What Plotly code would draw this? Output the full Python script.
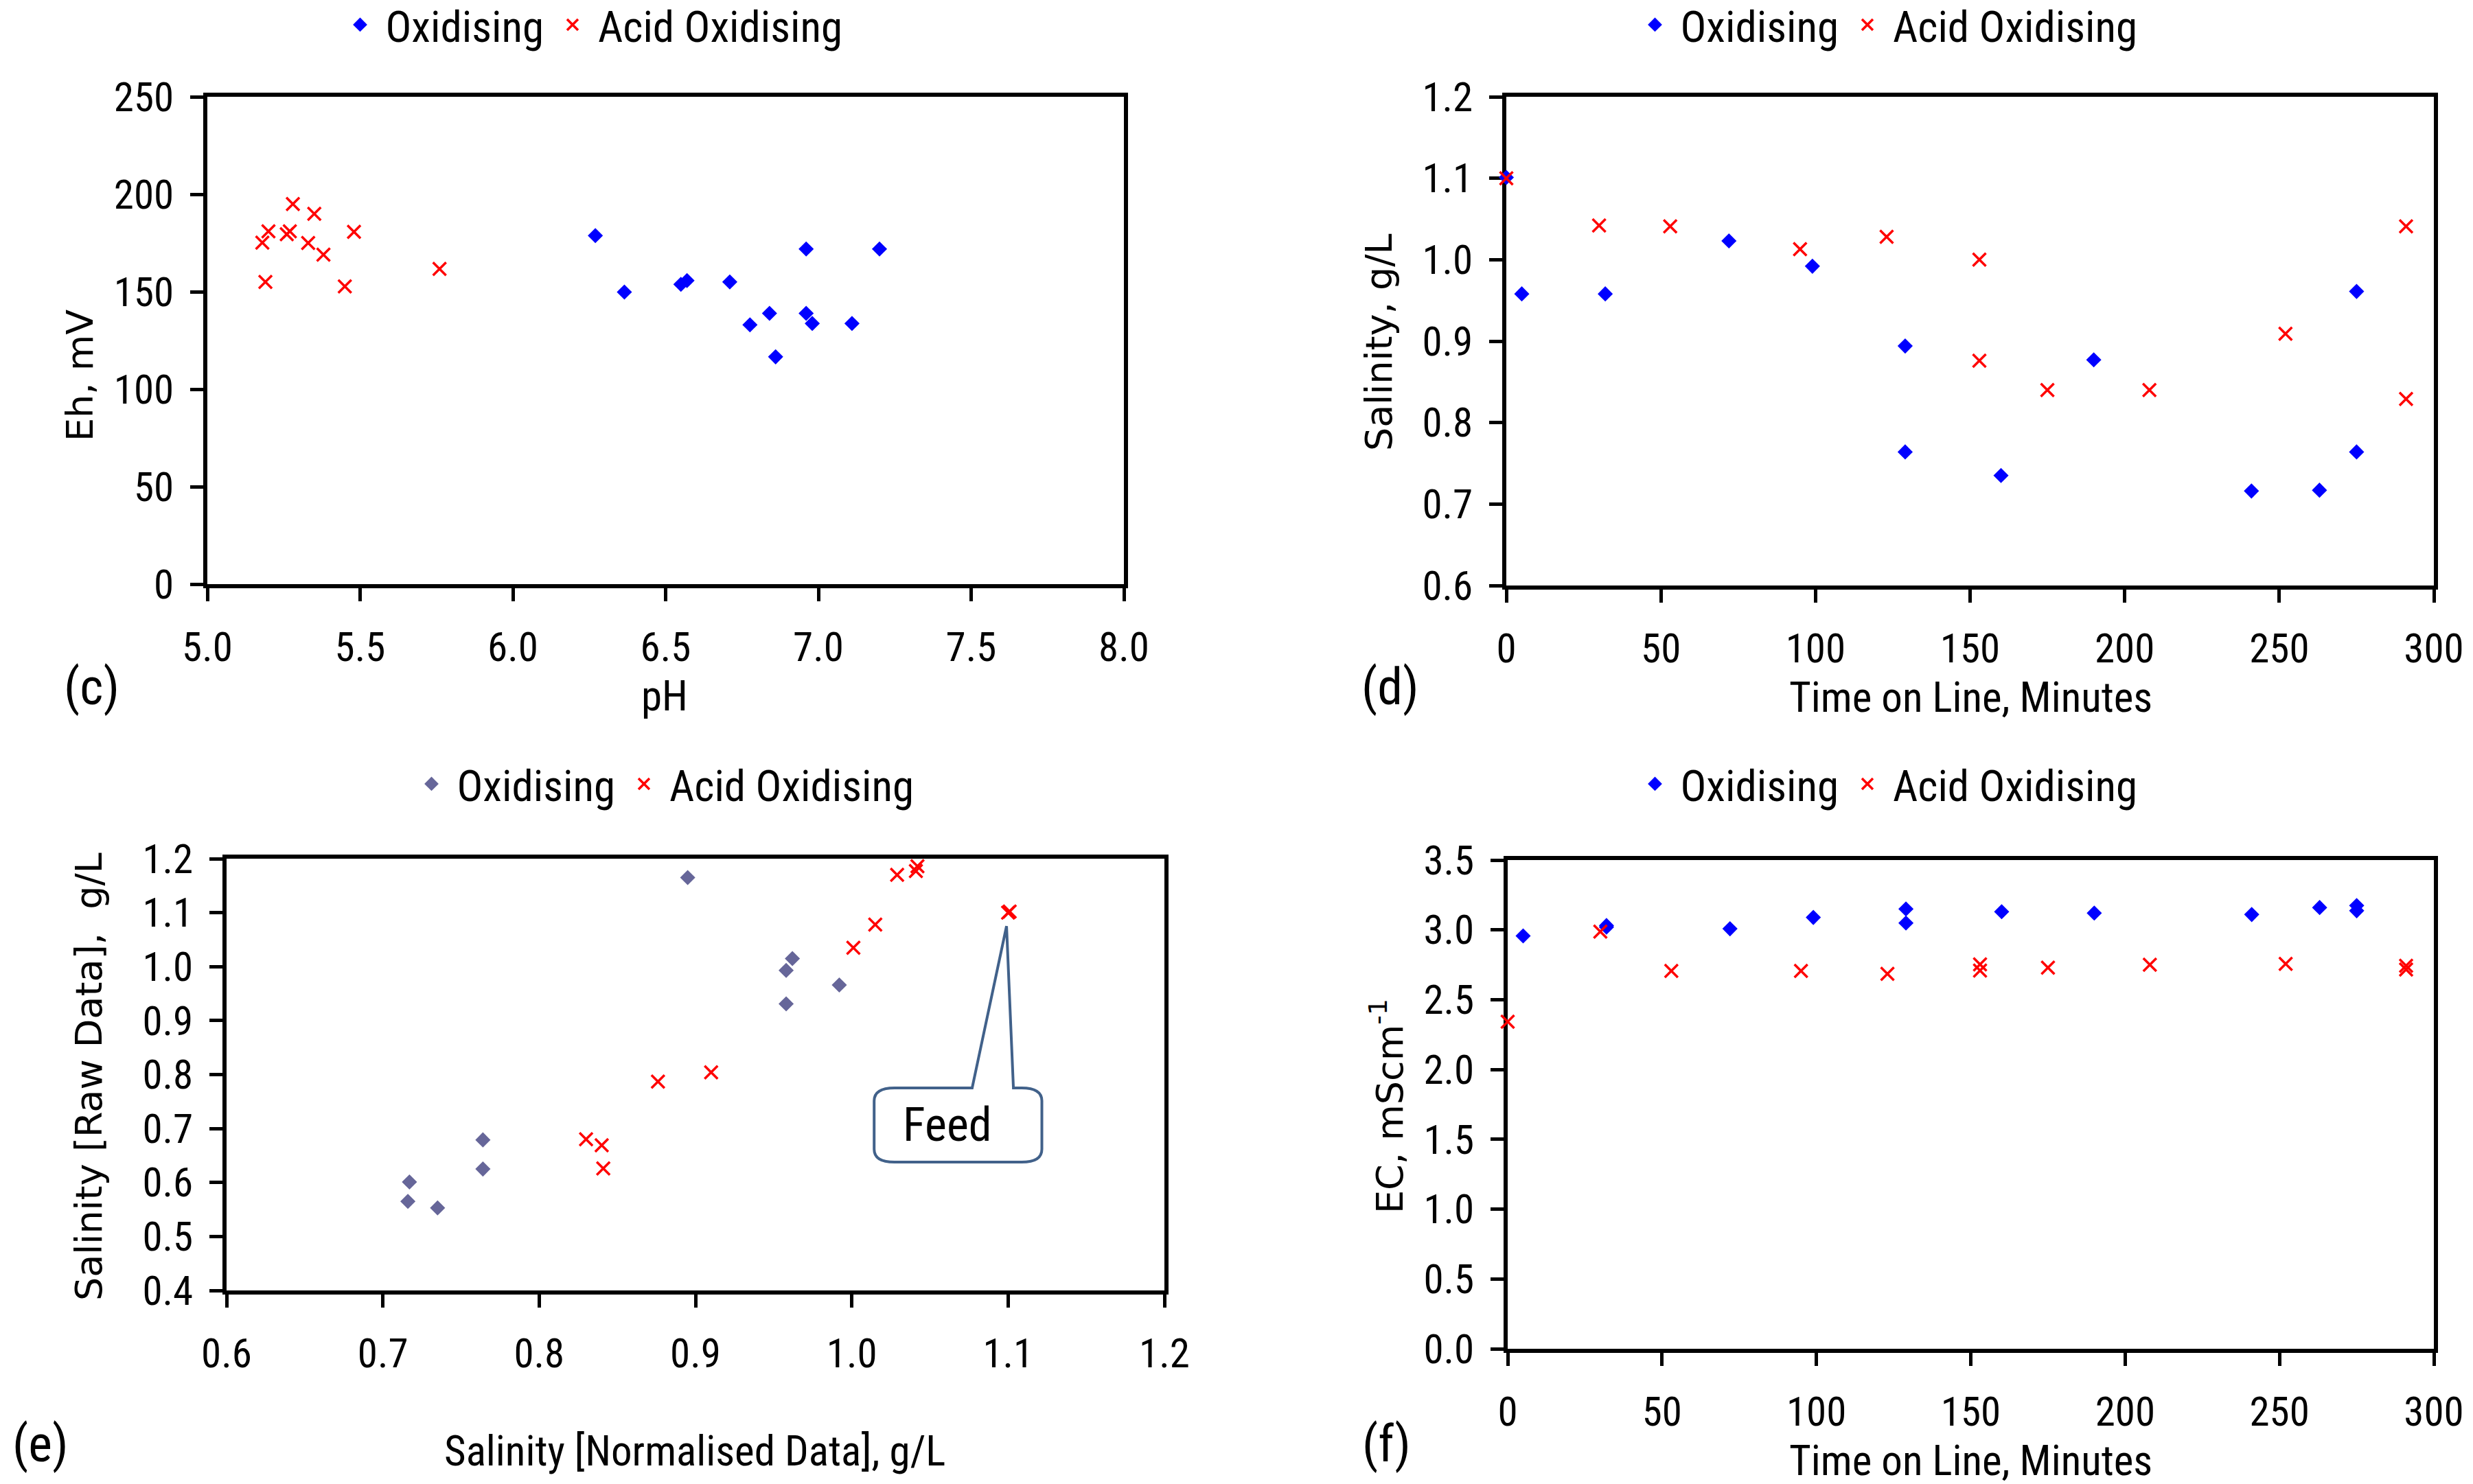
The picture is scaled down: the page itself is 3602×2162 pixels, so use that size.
import plotly.graph_objects as go

# ---------------- data ----------------
# (c) Eh vs pH
c_ox_ph = [6.27, 6.365, 6.55, 6.57, 6.71, 6.776, 6.84, 6.86, 6.96, 6.96, 6.98, 7.11, 7.20]
c_ox_eh = [178.8, 149.8, 153.8, 155.7, 155.0, 133.0, 138.9, 116.6, 171.9, 138.9, 133.7, 133.7, 171.9]
c_ac_ph = [5.18, 5.20, 5.19, 5.28, 5.26, 5.27, 5.35, 5.33, 5.38, 5.45, 5.48, 5.76]
c_ac_eh = [175.2, 181.0, 155.0, 195.0, 179.5, 181.0, 190.0, 175.0, 169.0, 152.7, 180.7, 161.7]

# (d) Salinity vs time
d_ox_t = [0, 5, 32, 72, 99, 129, 129, 160, 190, 241, 263, 275, 275]
d_ox_s = [1.101, 0.958, 0.958, 1.023, 0.992, 0.894, 0.764, 0.735, 0.877, 0.716, 0.717, 0.961, 0.764]
d_ac_t = [0, 30, 53, 95, 123, 153, 153, 175, 208, 252, 291, 291]
d_ac_s = [1.100, 1.042, 1.041, 1.013, 1.028, 1.000, 0.876, 0.840, 0.840, 0.909, 1.041, 0.829]

# (e) Raw vs normalised salinity
e_ox_x = [0.717, 0.716, 0.735, 0.764, 0.764, 0.895, 0.958, 0.962, 0.958, 0.992]
e_ox_y = [0.601, 0.565, 0.553, 0.679, 0.625, 1.165, 0.993, 1.015, 0.931, 0.966]
e_ac_x = [0.830, 0.840, 0.841, 0.876, 0.910, 1.001, 1.015, 1.029, 1.041, 1.042, 1.101, 1.100]
e_ac_y = [0.680, 0.669, 0.626, 0.787, 0.804, 1.035, 1.078, 1.170, 1.177, 1.186, 1.102, 1.100]
feed_x, feed_y = 1.100, 1.100

# (f) EC vs time
f_ox_t = [5, 32, 32, 72, 99, 129, 129, 160, 190, 241, 263, 275, 275]
f_ox_ec = [2.957, 3.031, 3.020, 3.008, 3.089, 3.150, 3.049, 3.130, 3.120, 3.110, 3.160, 3.174, 3.137]
f_ac_t = [0, 30, 53, 95, 123, 153, 153, 175, 208, 252, 291, 291]
f_ac_ec = [2.342, 2.987, 2.706, 2.706, 2.685, 2.753, 2.709, 2.729, 2.750, 2.757, 2.743, 2.716]

series_names = ["Oxidising", "Acid Oxidising"]

# ---------------- style ----------------
W, H = 3602, 2162
NARROW = "Liberation Sans Narrow, Arial Narrow, Roboto Condensed, sans-serif"
WIDE = "DejaVu Sans, Verdana, sans-serif"
BLUE = "#0000FF"
SLATE = "#666699"
RED = "#FF0000"
TICK_FS = 59
LEG_FS = 63
TITLE_FS = 61
YT_FS = 54


def px_x(p):
    return p / W


def px_y(p):
    return 1 - p / H


fig = go.Figure()

panels = [
    ("", (c_ox_ph, c_ox_eh), (c_ac_ph, c_ac_eh), BLUE, "legend"),
    ("2", (d_ox_t, d_ox_s), (d_ac_t, d_ac_s), BLUE, "legend2"),
    ("3", (e_ox_x, e_ox_y), (e_ac_x, e_ac_y), SLATE, "legend3"),
    ("4", (f_ox_t, f_ox_ec), (f_ac_t, f_ac_ec), BLUE, "legend4"),
]

for suf, ox, ac, oxcol, leg in panels:
    fig.add_trace(go.Scatter(
        x=ox[0], y=ox[1], mode="markers", name=series_names[0],
        xaxis="x" + suf, yaxis="y" + suf, legend=leg, cliponaxis=False,
        marker=dict(symbol="diamond", size=17, color=oxcol, line=dict(width=0)),
    ))
    fig.add_trace(go.Scatter(
        x=ac[0], y=ac[1], mode="markers", name=series_names[1],
        xaxis="x" + suf, yaxis="y" + suf, legend=leg, cliponaxis=False,
        marker=dict(symbol="x-thin", size=19, color=RED, line=dict(width=3.5, color=RED)),
    ))

axis_common = dict(
    showline=True, linecolor="black", linewidth=6, mirror=True,
    showgrid=False, zeroline=False, ticks="outside", ticklen=19, tickwidth=4.5,
    tickcolor="black", tickfont=dict(family=NARROW, size=TICK_FS, color="black"),
    layer="below traces", automargin=False,
)

# domains in pixels: (x0, x1, ytop, ybottom)
doms = {
    "": (294, 1629, 133, 843),
    "2": (2186, 3537, 133, 845),
    "3": (322, 1688, 1243, 1872),
    "4": (2188, 3537, 1245, 1957),
}
xr = {
    "": dict(range=[5.0, 8.0], dtick=0.5, tick0=5.0, tickformat=".1f"),
    "2": dict(range=[0, 300], dtick=50, tick0=0),
    "3": dict(range=[0.6, 1.2], dtick=0.1, tick0=0.6, tickformat=".1f"),
    "4": dict(range=[0, 300], dtick=50, tick0=0),
}
yr = {
    "": dict(range=[0, 250], dtick=50, tick0=0),
    "2": dict(range=[0.6, 1.2], dtick=0.1, tick0=0.6, tickformat=".1f"),
    "3": dict(range=[0.4, 1.2], dtick=0.1, tick0=0.4, tickformat=".1f"),
    "4": dict(range=[0, 3.5], dtick=0.5, tick0=0, tickformat=".1f"),
}

layout = dict(
    width=W, height=H, margin=dict(l=0, r=0, t=0, b=0, autoexpand=False),
    paper_bgcolor="white", plot_bgcolor="white", showlegend=True,
)
for suf, (x0, x1, yt, yb) in doms.items():
    xa = dict(axis_common, domain=[px_x(x0), px_x(x1)], anchor="y" + suf,
              ticklabelstandoff=16, **xr[suf])
    ya = dict(axis_common, domain=[px_y(yb), px_y(yt)], anchor="x" + suf,
              ticklabelstandoff=12, **yr[suf])
    layout["xaxis" + suf] = xa
    layout["yaxis" + suf] = ya

leg_common = dict(orientation="h", xanchor="center", yanchor="middle",
                  font=dict(family=NARROW, size=LEG_FS, color="black"),
                  bgcolor="rgba(0,0,0,0)", itemsizing="trace", itemwidth=64)
layout["legend"] = dict(leg_common, x=px_x(852), y=px_y(28))
layout["legend2"] = dict(leg_common, x=px_x(2738), y=px_y(28))
layout["legend3"] = dict(leg_common, x=px_x(956), y=px_y(1134))
layout["legend4"] = dict(leg_common, x=px_x(2738), y=px_y(1134))

fig.update_layout(**layout)

annots = []


def add_text(text, cx, cy, size, family, angle=0):
    annots.append(dict(text=text, x=px_x(cx), y=px_y(cy), xref="paper", yref="paper",
                       xanchor="center", yanchor="middle", showarrow=False,
                       textangle=angle, font=dict(family=family, size=size, color="black")))


# x-axis titles
add_text("pH", 960, 1006, TITLE_FS, NARROW)
add_text("Time on Line, Minutes", 2862, 1008, TITLE_FS, NARROW)
add_text("Salinity [Normalised Data], g/L", 1004, 2106, TITLE_FS, NARROW)
add_text("Time on Line, Minutes", 2862, 2120, TITLE_FS, NARROW)
# panel letters
add_text("(c)", 126, 992, 74, NARROW)
add_text("(d)", 2017, 992, 74, NARROW)
add_text("(e)", 51, 2095, 74, NARROW)
add_text("(f)", 2012, 2095, 74, NARROW)
# y-axis titles
add_text("Eh, mV", 108, 539, YT_FS, WIDE, -90)
add_text("Salinity, g/L", 2000, 490, YT_FS, WIDE, -90)
add_text("Salinity [Raw Data],  g/L", 121, 1561, YT_FS, WIDE, -90)
add_text("EC, mScm<sup>-1</sup>", 2012, 1603, YT_FS, WIDE, -90)

# Feed callout text
annots.append(dict(text="Feed", x=1.061, y=0.707, xref="x3", yref="y3", showarrow=False,
                   xanchor="center", yanchor="middle",
                   font=dict(family=NARROW, size=68, color="black")))
fig.update_layout(annotations=annots)

# Callout shape (rounded box with pointer to the feed point)
bx0, bx1, by0, by1 = 1.0143, 1.1216, 0.6377, 0.7752
rx, ry = 0.013, 0.024
pl, pr = 1.077, 1.1034
ax_, ay_ = feed_x - 0.001, feed_y - 0.025
path = (f"M {bx0+rx},{by1} L {pl},{by1} L {ax_},{ay_} L {pr},{by1} L {bx1-rx},{by1} "
        f"Q {bx1},{by1} {bx1},{by1-ry} L {bx1},{by0+ry} Q {bx1},{by0} {bx1-rx},{by0} "
        f"L {bx0+rx},{by0} Q {bx0},{by0} {bx0},{by0+ry} L {bx0},{by1-ry} "
        f"Q {bx0},{by1} {bx0+rx},{by1} Z")
fig.add_shape(type="path", path=path, xref="x3", yref="y3",
              line=dict(color="#41618A", width=4), fillcolor="white", layer="below")

fig.write_html("out.html")
